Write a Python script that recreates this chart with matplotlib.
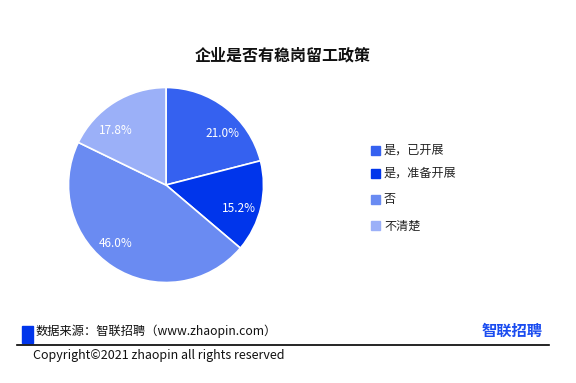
import matplotlib
matplotlib.use("Agg")
import numpy as np
import matplotlib.pyplot as plt
from matplotlib.patches import Rectangle
from matplotlib.lines import Line2D

plt.rcParams['font.family'] = ['Noto Sans CJK SC', 'DejaVu Sans']

title = "企业是否有稳岗留工政策"
categories = ["是，已开展", "是，准备开展", "否", "不清楚"]
values = [21.0, 15.2, 46.0, 17.8]
colors = ["#3561F0", "#0035EB", "#6A8BF2", "#9BB0F8"]

W, H = 576, 383
fig = plt.figure(figsize=(W/100, H/100), dpi=100)
fig.patch.set_facecolor("white")

def fx(x): return x / W
def fy(y): return 1 - y / H

# Pie axes
cx, cy, r = 166, 185, 97.5
ax = fig.add_axes([fx(cx - r), fy(cy + r), 2*r/W, 2*r/H])
wedges, texts, autotexts = ax.pie(
    values, colors=colors, startangle=90, counterclock=False,
    autopct=lambda p: f"{p:.1f}%", pctdistance=0.78,
    wedgeprops=dict(edgecolor="white", linewidth=1.2),
    textprops=dict(color="white", fontsize=8.5))
# small angular nudges of label placement within each wedge (style)
label_nudge_deg = [-10, -5, -8, 11]
label_radius = [0.78, 0.79, 0.79, 0.76]
for w, t, d, lr in zip(wedges, autotexts, label_nudge_deg, label_radius):
    ang = np.deg2rad((w.theta1 + w.theta2) / 2 + d)
    t.set_position((lr * np.cos(ang), lr * np.sin(ang)))
ax.set_aspect('auto')
ax.set_xlim(-1, 1)
ax.set_ylim(-1, 1)
ax.axis('off')

# Title
fig.text(fx(283), fy(55), title, ha="center", va="center",
         fontsize=11.5, fontweight="bold", color="#111111")

# Legend
leg_y = [150, 173, 199, 226]
for lab, col, y in zip(categories, colors, leg_y):
    fig.patches.append(Rectangle((fx(371), fy(y + 4.5)), 9/W, 9/H,
                                 transform=fig.transFigure, color=col))
    fig.text(fx(384), fy(y), lab, ha="left", va="center",
             fontsize=8.7, color="#222222")

# Footer
fig.patches.append(Rectangle((fx(22), fy(343)), 11/W, 17/H,
                             transform=fig.transFigure, color="#0035EB"))
fig.text(fx(36), fy(331), "数据来源：智联招聘（www.zhaopin.com）", ha="left",
         va="center", fontsize=8.8, color="#111111")
fig.text(fx(543), fy(331), "智联招聘", ha="right", va="center",
         fontsize=11, fontweight="bold", color="#1A4CF0")
fig.lines.append(Line2D([fx(17), fx(549)], [fy(344.5), fy(344.5)],
                        transform=fig.transFigure, color="black", linewidth=1.2))
fig.text(fx(33), fy(355), "Copyright©2021 zhaopin all rights reserved",
         ha="left", va="center", fontsize=9, color="#111111")

fig.savefig("out.png", dpi=100, facecolor="white")
